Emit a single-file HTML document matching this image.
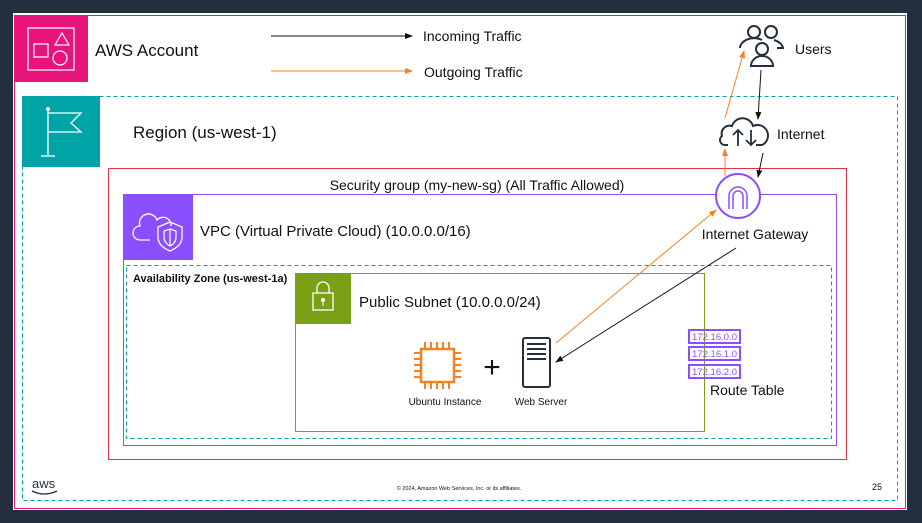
<!DOCTYPE html>
<html><head><meta charset="utf-8"><style>
body{margin:0;width:922px;height:523px;background:#232f3e;overflow:hidden;position:relative;font-family:"Liberation Sans",sans-serif}
svg{position:absolute;left:0;top:0}
text{font-family:"Liberation Sans",sans-serif;fill:#111}
</style></head><body>
<svg width="922" height="523" viewBox="0 0 922 523">
<defs>
<marker id="ab" markerWidth="8" markerHeight="8" refX="7" refY="4" orient="auto" markerUnits="userSpaceOnUse"><path d="M0,1 L8,4 L0,7 Z" fill="#111"/></marker>
<marker id="ao" markerWidth="8" markerHeight="8" refX="7" refY="4" orient="auto" markerUnits="userSpaceOnUse"><path d="M0,1 L8,4 L0,7 Z" fill="#f58220"/></marker>
</defs>
<rect x="13" y="13" width="894" height="497" fill="#fff"/>
<rect x="14.5" y="15.5" width="891" height="493" fill="none" stroke="#e7157b" stroke-width="1"/>
<rect x="14" y="15" width="74" height="67" fill="#e7157b"/>
<rect x="28" y="28" width="46" height="42" fill="none" stroke="#fff" stroke-width="1.2"/>
<rect x="34" y="44" width="14" height="13" fill="none" stroke="#fff" stroke-width="1.2"/>
<path d="M62,33 L69,45 L55,45 Z" fill="none" stroke="#fff" stroke-width="1.2"/>
<circle cx="60" cy="58" r="7" fill="none" stroke="#fff" stroke-width="1.2"/>
<text x="95" y="56" font-size="17">AWS Account</text>
<line x1="271" y1="36" x2="412" y2="36" stroke="#111" marker-end="url(#ab)"/>
<text x="423" y="41" font-size="14">Incoming Traffic</text>
<line x1="271" y1="71" x2="412" y2="71" stroke="#f58220" marker-end="url(#ao)"/>
<text x="424" y="77" font-size="14">Outgoing Traffic</text>
<rect x="22.5" y="96.5" width="875" height="404" fill="none" stroke="#00a4a6" stroke-dasharray="4,3"/>
<rect x="22" y="96" width="78" height="71" fill="#00a4a6"/>
<g stroke="#fff" stroke-width="1.3" fill="none"><line x1="48" y1="110" x2="48" y2="155"/><line x1="41" y1="156" x2="55" y2="156"/><path d="M48,113 L81,113 L71,123 L81,132 L48,132"/></g>
<circle cx="48" cy="109" r="2" fill="#fff"/>
<text x="133" y="138" font-size="17">Region (us-west-1)</text>
<rect x="108.5" y="168.5" width="738" height="291" fill="none" stroke="#dd344c"/>
<text x="477" y="190" font-size="14" text-anchor="middle">Security group (my-new-sg) (All Traffic Allowed)</text>
<rect x="123.5" y="194.5" width="713" height="251" fill="none" stroke="#8c4fff"/>
<rect x="123" y="194" width="70" height="66" fill="#8c4fff"/>
<path d="M150,240 h-10 a7,7 0 0 1 0,-14 a9,9 0 0 1 17,-6 a8,8 0 0 1 14,6" fill="none" stroke="#fff" stroke-width="1.3"/>
<path d="M170,222 l12,5 v10 q0,9 -12,14 q-12,-5 -12,-14 v-10 z" fill="none" stroke="#fff" stroke-width="1.3"/>
<path d="M170,229 l6,2 v6 q0,6 -6,9 q-6,-3 -6,-9 v-6 z" fill="none" stroke="#fff" stroke-width="1.2"/>
<line x1="170" y1="229" x2="170" y2="246" stroke="#fff" stroke-width="1.2"/>
<text x="200" y="236" font-size="15">VPC (Virtual Private Cloud) (10.0.0.0/16)</text>
<rect x="126.5" y="265.5" width="705" height="173" fill="none" stroke="#00a4a6" stroke-dasharray="4,3"/>
<text x="133" y="282" font-size="11" font-weight="bold">Availability Zone (us-west-1a)</text>
<rect x="295.5" y="273.5" width="409" height="158" fill="none" stroke="#7aa116"/>
<rect x="295" y="273" width="56" height="51" fill="#7aa116"/>
<rect x="313" y="293" width="20" height="17" fill="none" stroke="#fff" stroke-width="1.3"/>
<path d="M317,293 v-5 a6,6 0 0 1 12,0 v5" fill="none" stroke="#fff" stroke-width="1.3"/>
<circle cx="323" cy="300" r="2" fill="#fff"/><line x1="323" y1="302" x2="323" y2="306" stroke="#fff"/>
<text x="359" y="307" font-size="15">Public Subnet (10.0.0.0/24)</text>
<rect x="421" y="349" width="33" height="33" fill="none" stroke="#f58220" stroke-width="2.5"/>
<g stroke="#f58220" stroke-width="2">
<line x1="425" y1="342" x2="425" y2="349"/><line x1="431" y1="342" x2="431" y2="349"/><line x1="437" y1="342" x2="437" y2="349"/><line x1="443" y1="342" x2="443" y2="349"/><line x1="449" y1="342" x2="449" y2="349"/>
<line x1="425" y1="382" x2="425" y2="389"/><line x1="431" y1="382" x2="431" y2="389"/><line x1="437" y1="382" x2="437" y2="389"/><line x1="443" y1="382" x2="443" y2="389"/><line x1="449" y1="382" x2="449" y2="389"/>
<line x1="414" y1="353" x2="421" y2="353"/><line x1="414" y1="359" x2="421" y2="359"/><line x1="414" y1="365" x2="421" y2="365"/><line x1="414" y1="371" x2="421" y2="371"/><line x1="414" y1="377" x2="421" y2="377"/>
<line x1="454" y1="353" x2="461" y2="353"/><line x1="454" y1="359" x2="461" y2="359"/><line x1="454" y1="365" x2="461" y2="365"/><line x1="454" y1="371" x2="461" y2="371"/><line x1="454" y1="377" x2="461" y2="377"/>
</g>
<text x="445" y="405" font-size="10" text-anchor="middle">Ubuntu Instance</text>
<text x="492" y="377" font-size="30" text-anchor="middle">+</text>
<rect x="523" y="338" width="27" height="49" rx="2" fill="none" stroke="#232f3e" stroke-width="2"/>
<g stroke="#232f3e" stroke-width="2"><line x1="527" y1="344" x2="546" y2="344"/><line x1="527" y1="349" x2="546" y2="349"/><line x1="527" y1="354" x2="546" y2="354"/><line x1="527" y1="359" x2="546" y2="359"/></g>
<text x="541" y="405" font-size="10" text-anchor="middle">Web Server</text>
<g stroke="#8c4fff" stroke-width="2" fill="none"><rect x="689" y="330" width="51" height="13"/><rect x="689" y="347" width="51" height="13"/><rect x="689" y="365" width="51" height="13"/></g>
<g font-size="9.5"><text x="692" y="340" textLength="45" style="fill:#8c4fff">172.16.0.0</text><text x="692" y="357" textLength="45" style="fill:#8c4fff">172.16.1.0</text><text x="692" y="375" textLength="45" style="fill:#8c4fff">172.16.2.0</text></g>
<text x="710" y="395" font-size="14">Route Table</text>
<circle cx="738" cy="196" r="22" fill="#fff" stroke="#8c4fff" stroke-width="2"/>
<path d="M729,209 v-13 a9,9 0 0 1 18,0 v13 M733,209 v-13 a5,5 0 0 1 10,0 v13" fill="none" stroke="#8c4fff" stroke-width="1.5"/>
<text x="755" y="239" font-size="14" text-anchor="middle">Internet Gateway</text>
<path d="M728,145 h-3 a5,5 0 0 1 -3,-9 a8,8 0 0 1 10,-10 a11,11 0 0 1 21,0 a9,9 0 0 1 9,19 h-6" fill="none" stroke="#232f3e" stroke-width="2"/>
<path d="M738,146 v-16 m-5,5 l5,-5 l5,5 M751,130 v15 m-5,-5 l5,5 l5,-5" fill="none" stroke="#232f3e" stroke-width="1.8"/>
<text x="777" y="139" font-size="14">Internet</text>
<g fill="none" stroke="#232f3e" stroke-width="2">
<circle cx="754" cy="32" r="6"/><path d="M740,48 a14,10 0 0 1 22,-8"/>
<circle cx="771" cy="32" r="6"/><path d="M774,40 a14,10 0 0 1 9,8 h-6"/>
<circle cx="762" cy="49" r="6"/><path d="M751,66 a11,10 0 0 1 22,0 z"/>
</g>
<text x="795" y="54" font-size="14">Users</text>
<line x1="556" y1="343" x2="716" y2="210" stroke="#f58220" marker-end="url(#ao)"/>
<line x1="736" y1="248" x2="556" y2="362" stroke="#111" marker-end="url(#ab)"/>
<line x1="725" y1="176" x2="725" y2="149" stroke="#f58220" marker-end="url(#ao)"/>
<line x1="725" y1="118" x2="744" y2="51" stroke="#f58220" marker-end="url(#ao)"/>
<line x1="761" y1="70" x2="758" y2="119" stroke="#111" marker-end="url(#ab)"/>
<line x1="763" y1="153" x2="758" y2="177" stroke="#111" marker-end="url(#ab)"/>
<text x="32" y="488" font-size="13" style="fill:#232f3e">aws</text>
<path d="M32,491 q12,6 25,0" fill="none" stroke="#232f3e" stroke-width="1.3"/>
<text x="459" y="490" font-size="5.5" text-anchor="middle">© 2024, Amazon Web Services, Inc. or its affiliates.</text>
<text x="872" y="490" font-size="9">25</text>
</svg>
</body></html>
